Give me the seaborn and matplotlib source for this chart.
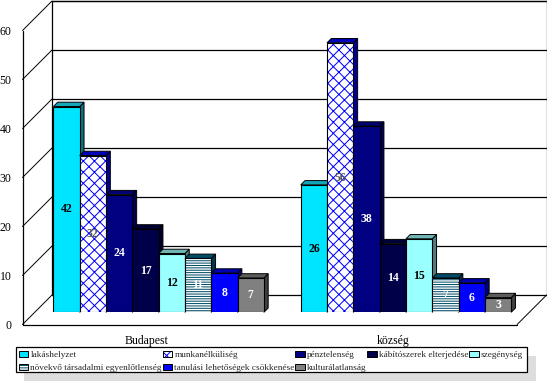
import matplotlib
matplotlib.use("Agg")
import matplotlib.pyplot as plt
from matplotlib.legend_handler import HandlerTuple
from matplotlib.patches import Polygon, Rectangle
from matplotlib.transforms import Affine2D
import pandas as pd
import seaborn as sns

categories = ["Budapest", "község"]
series = ["lakáshelyzet", "munkanélküliség", "pénztelenség", "kábítószerek elterjedése",
          "szegénység", "növekvő társadalmi egyenlőtlenség", "tanulási lehetőségek csökkenése",
          "kulturálatlanság"]
budapest = [42, 32, 24, 17, 12, 11, 8, 7]
kozseg = [26, 55, 38, 14, 15, 7, 6, 3]
labels_kozseg = [26, 56, 38, 14, 15, 7, 6, 3]
yticks = [0, 10, 20, 30, 40, 50, 60]

front = ["#00E5FF", "#FFFFFF", "#000080", "#000048", "#99FFFF", "#FFFFFF", "#0000FF", "#808080"]
top = ["#12A8B8", "#0000B8", "#000070", "#000038", "#70B4B4", "#004C68", "#0000B0", "#5C5C5C"]
side = ["#0A7580", "#000090", "#000050", "#000028", "#4D8080", "#003850", "#000080", "#404040"]
hatches = [None, "xxx", None, None, None, "-------", None, None]
hatch_col = [None, "#0000FF", None, None, None, "#004C68", None, None]
text_col = ["black", "#555555", "white", "white", "black", "white", "white", "white"]

W, H = 547, 382
sns.set_theme(style="white")
plt.rcParams["font.family"] = ["Liberation Serif", "DejaVu Serif"]
plt.rcParams["hatch.linewidth"] = 0.72

fig = plt.figure(figsize=(W / 100, H / 100), dpi=100, facecolor="white")
L, R, T, B = 35.0, 529.6, 18.3, 312.3
ax = fig.add_axes([L / W, 1 - B / H, (R - L) / W, (B - T) / H])

df = pd.DataFrame({
    "cat": [categories[0]] * 8 + [categories[1]] * 8,
    "series": series * 2,
    "value": budapest + kozseg,
})
sns.barplot(data=df, x="cat", y="value", hue="series", hue_order=series, order=categories,
            palette=front, saturation=1, width=0.851, gap=0, legend=False, ax=ax,
            edgecolor="black", linewidth=0.8)
ax.set_xlim(-0.5, 1.5)
ax.set_ylim(0, 60)
ax.set_xlabel("")
ax.set_ylabel("")
ax.patch.set_alpha(0)
for s in ax.spines.values():
    s.set_visible(False)

DX, DY = 17.0, 17.3
FX, FY = -12.5, -12.2
back = ax.transData + Affine2D().translate(DX, DY)
fr = ax.transData + Affine2D().translate(FX, FY)
lw = 0.9
for v in yticks:
    ax.plot([-0.5, 1.5], [v, v], color="black", lw=lw, transform=back, clip_on=False, zorder=1)
    x0, y0 = fr.transform((-0.5, v))
    x1, y1 = back.transform((-0.5, v))
    ax.plot([x0, x1], [y0, y1], color="black", lw=0.7, transform=None, clip_on=False, zorder=1)
for tr in (back, fr):
    ax.plot([-0.5, -0.5], [0, 60], color="black", lw=lw, transform=tr, clip_on=False, zorder=1)
ax.plot([1.5, 1.5], [0, 60], color="black", lw=lw, transform=back, clip_on=False, zorder=1)
ax.plot([-0.5, 1.5], [60, 60], color="black", lw=lw, transform=back, clip_on=False, zorder=1)
ax.plot([-0.5, 1.5], [0, 0], color="black", lw=lw, transform=fr, clip_on=False, zorder=1)
ax.plot([fr.transform((1.5, 0))[0], back.transform((1.5, 0))[0]],
        [fr.transform((1.5, 0))[1], back.transform((1.5, 0))[1]],
        color="black", lw=0.7, transform=None, clip_on=False, zorder=1)

# depth faces of the bars, from the bars seaborn drew
px_x = 247.4
px_y = (B - T) / 60
d = 4.3
dx, dy = d / px_x, d / px_y
for i, cont in enumerate(ax.containers):
    for j, p in enumerate(cont.patches):
        x0, x1, h = p.get_x(), p.get_x() + p.get_width(), p.get_height()
        z = 3 + 0.1 * (i + 8 * j)
        ax.add_patch(Polygon([(x1, 0), (x1 + dx, dy), (x1 + dx, h + dy), (x1, h)], closed=True,
                             facecolor=side[i], edgecolor="black", lw=0.7, zorder=z, clip_on=False))
        ax.add_patch(Polygon([(x0, h), (x0 + dx, h + dy), (x1 + dx, h + dy), (x1, h)], closed=True,
                             facecolor=top[i], edgecolor="black", lw=0.7, zorder=z + 0.01, clip_on=False))
        p.set_zorder(z + 0.02)
        if hatches[i]:
            p.set_hatch(hatches[i])
            p.set_edgecolor(hatch_col[i])
            p.set_linewidth(0)
            p.set_antialiased(False)
            ax.add_patch(Rectangle((x0, 0), x1 - x0, h, fill=False, edgecolor="black", lw=0.8,
                                   zorder=z + 0.03))
    shown = [budapest[i], labels_kozseg[i]]
    txts = ax.bar_label(cont, labels=[str(v) for v in shown], label_type="center",
                        color=text_col[i], fontsize=8.5, fontweight="bold")
    for t in txts:
        t.set_zorder(50)

# tick labels sit on the front plane
ax.set_yticks(yticks)
ax.set_xticks([0, 1], categories)
ax.tick_params(axis="both", length=0, labelsize=8.5, labelcolor="black")
ax.tick_params(axis="y", pad=17.0)
ax.tick_params(axis="x", pad=16.0)
for t in ax.get_yticklabels():
    t.set_transform(t.get_transform() + Affine2D().translate(0, FY))
for t in ax.get_xticklabels():
    t.set_transform(t.get_transform() + Affine2D().translate(FX, 0))

# legend: shadow, box, then the entries
fig.patches.append(Rectangle((24 / W, 1 - 381 / H), 512 / W, 25 / H, transform=fig.transFigure,
                             facecolor="#DDDDDD", edgecolor="none", zorder=-5))
fig.patches.append(Rectangle((15.5 / W, 1 - 372.3 / H), 511.5 / W, 25 / H, transform=fig.transFigure,
                             facecolor="white", edgecolor="black", lw=0.9, zorder=-4))
handles = []
for i, s in enumerate(series):
    if hatches[i]:
        handles.append((Rectangle((0, 0), 1, 1, facecolor="white", edgecolor=hatch_col[i], lw=0,
                                  hatch=hatches[i]),
                        Rectangle((0, 0), 1, 1, fill=False, edgecolor="black", lw=0.7)))
    else:
        handles.append(Rectangle((0, 0), 1, 1, facecolor=front[i], edgecolor="black", lw=0.7))
order = [0, 5, 1, 6, 2, 7, 3, 4]
bx = (17 / W, 1 - 374.0 / H, 508 / W, 25 / H)
leg = fig.legend([handles[k] for k in order], [series[k] for k in order], ncol=5, mode="expand",
                 bbox_to_anchor=bx, bbox_transform=fig.transFigure, loc="lower left",
                 borderaxespad=0, borderpad=0.2, handlelength=1.0, handleheight=0.65,
                 handletextpad=0.25, columnspacing=0.1, labelspacing=0.5, fontsize=6.7,
                 frameon=False, handler_map={tuple: HandlerTuple(ndivide=1, pad=0)})

fig.savefig("out.png", dpi=100)
